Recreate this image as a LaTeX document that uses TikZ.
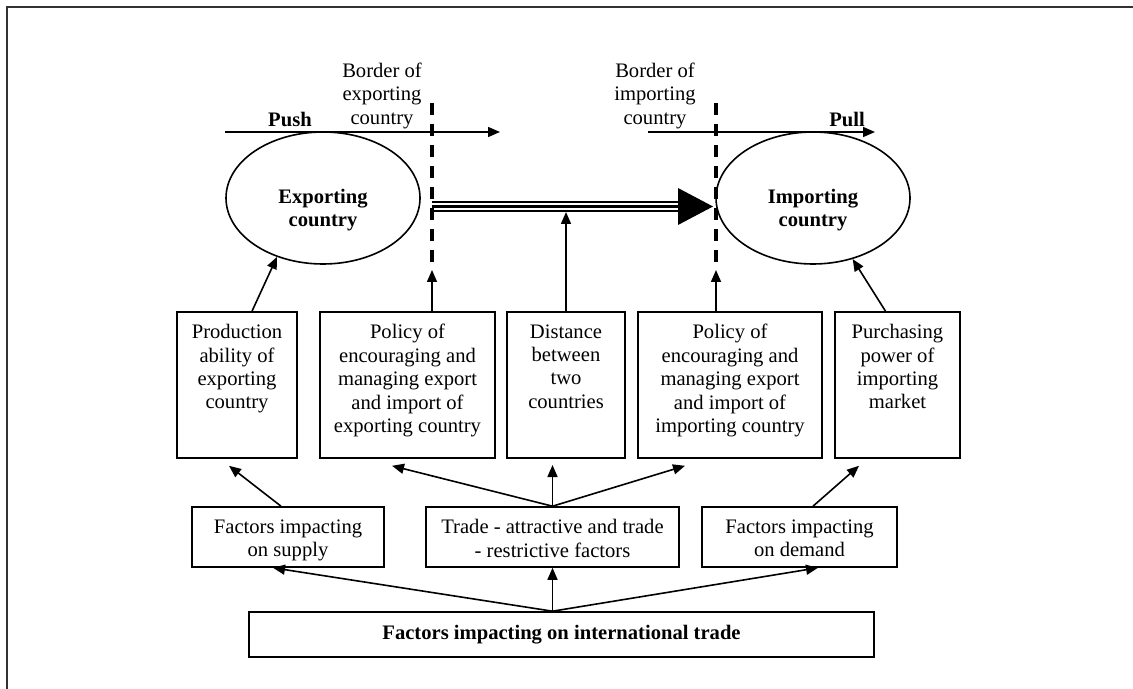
\documentclass[tikz,border=0pt]{standalone}
\usepackage{fontspec}
\setmainfont{Liberation Serif}
\usetikzlibrary{shapes.geometric,arrows.meta}
\begin{document}
\begin{tikzpicture}[x=0.5pt,y=-0.5pt,
  every node/.style={font=\fontsize{10.3}{11.7}\selectfont, inner sep=0pt},
  box/.style={draw, line width=0.8pt, rectangle},
  txt/.style={align=center, anchor=north},
  arr/.style={-{Triangle[length=6pt,width=5pt]}, line width=0.8pt},
  border/.style={line width=1.6pt, dash pattern=on 6pt off 4.5pt},
  oval/.style={draw, ellipse, line width=0.8pt, minimum width=97pt, minimum height=66pt},
  frame/.style={line width=1pt, draw=black!80}]
\useasboundingbox (0,0) rectangle (1133,689);
\draw[frame] (7,689) -- (7,7.5) -- (1133,7.5);

% ellipses
\node[oval] (exp) at (323,198) {};
\node[align=center, font=\bfseries\fontsize{10.3}{11.7}\selectfont] (explab) at (323,210) {Exporting\\country};
\node[oval] (imp) at (813,198) {};
\node[align=center, font=\bfseries\fontsize{10.3}{11.7}\selectfont] (implab) at (813,210) {Importing\\country};

% push / pull
\coordinate (pushs) at (225,132); \coordinate (pushe) at (500,132);
\coordinate (pulls) at (648,132); \coordinate (pulle) at (875,132);
\draw[arr] (pushs) -- (pushe);
\draw[arr] (pulls) -- (pulle);
\node[font=\bfseries\fontsize{10.3}{11.7}\selectfont, anchor=base] (push) at (290,127) {Push};
\node[font=\bfseries\fontsize{10.3}{11.7}\selectfont, anchor=base] (pull) at (847,127) {Pull};

% borders
\coordinate (b1t) at (432,103); \coordinate (b1b) at (432,262);
\coordinate (b2t) at (716,103); \coordinate (b2b) at (716,262);
\draw[border] (b1t) -- (b1b);
\draw[border] (b2t) -- (b2b);
\node[align=center, anchor=south] (b1lab) at (382,129) {Border of\\exporting\\country};
\node[align=center, anchor=south] (b2lab) at (655,129) {Border of\\importing\\country};

% triple arrow
\coordinate (ts) at (432,206.5); \coordinate (te) at (680,206.5);
\draw[line width=1.1pt] (432,201.8) -- (680,201.8);
\draw[line width=1.1pt] (ts) -- (te);
\draw[line width=1.1pt] (432,211.2) -- (680,211.2);
\fill (678,188) -- (713,206.5) -- (678,225) -- cycle;

% row 1 boxes
\node[box, minimum width=60pt, minimum height=73pt] (prod) at (237,385) {};
\node[txt] (prodt) at (237,324) {Production\\ability of\\exporting\\country};
\node[box, minimum width=87.5pt, minimum height=73pt] (polexp) at (407.5,385) {};
\node[txt] (polexpt) at (407.5,324) {Policy of\\encouraging and\\managing export\\and import of\\exporting country};
\node[box, minimum width=59pt, minimum height=73pt] (dist) at (566,385) {};
\node[txt] (distt) at (566,324) {Distance\\between\\two\\countries};
\node[box, minimum width=92pt, minimum height=73pt] (polimp) at (730,385) {};
\node[txt] (polimpt) at (730,324) {Policy of\\encouraging and\\managing export\\and import of\\importing country};
\node[box, minimum width=62.5pt, minimum height=73pt] (purch) at (897.5,385) {};
\node[txt] (purcht) at (897.5,324) {Purchasing\\power of\\importing\\market};

% row 2 boxes
\node[box, minimum width=96pt, minimum height=30pt] (supply) at (288,537) {};
\node[txt] (supplyt) at (288,519) {Factors impacting\\on supply};
\node[box, minimum width=126.5pt, minimum height=30pt] (trade) at (552.5,537) {};
\node[txt] (tradet) at (552.5,519) {Trade - attractive and trade\\- restrictive factors};
\node[box, minimum width=97.5pt, minimum height=30pt] (demand) at (799.5,537) {};
\node[txt] (demandt) at (799.5,519) {Factors impacting\\on demand};

% bottom box
\node[box, minimum width=312.5pt, minimum height=22.5pt, font=\bfseries\fontsize{10.3}{11.7}\selectfont] (intl) at (561.5,634.5) {Factors impacting on international trade};

% arrows up to ellipses / borders
\draw[arr] ([xshift=7.5pt]prod.north) -- (exp.232);
\draw[arr] (polexp.north -| b1b) -- ([yshift=-4pt]b1b);
\draw[arr] (dist.north) -- (dist.north |- 0,212);
\draw[arr] (polimp.north -| b2b) -- ([yshift=-4pt]b2b);
\draw[arr] ([xshift=-6pt]purch.north) -- (imp.303);

% row 2 -> row 1
\draw[arr] ([xshift=-3.5pt]supply.north) -- ([xshift=-4pt,yshift=-3.5pt]prod.south);
\draw[arr] (trade.north) -- ([xshift=-7.75pt,yshift=-3.5pt]polexp.south);
\draw[arr] (trade.north) -- (trade.north |- 0,465);
\draw[arr] (trade.north) -- ([xshift=-22.5pt,yshift=-3.5pt]polimp.south);
\draw[arr] ([xshift=6.75pt]demand.north) -- ([xshift=-19.25pt,yshift=-3.5pt]purch.south);

% bottom -> row 2
\draw[arr] (intl.north -| trade.south) -- ([xshift=-7.5pt]supply.south);
\draw[arr] (intl.north -| trade.south) -- (trade.south);
\draw[arr] (intl.north -| trade.south) -- ([xshift=9.25pt]demand.south);
\end{tikzpicture}
\end{document}
